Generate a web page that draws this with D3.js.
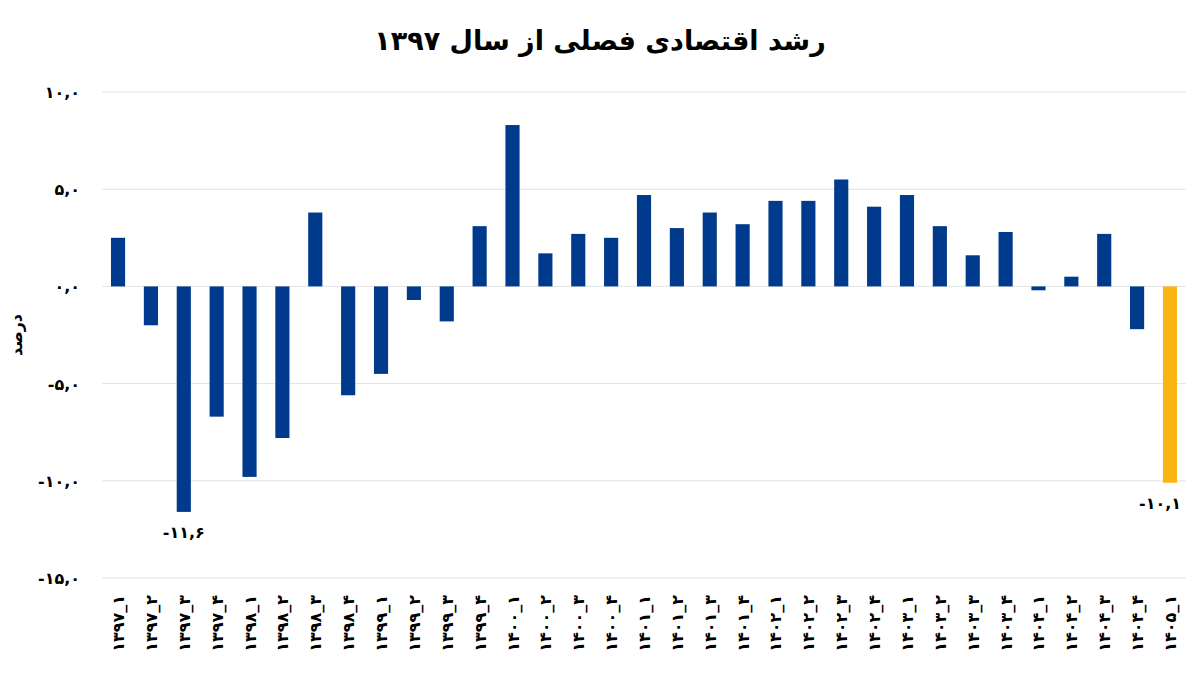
<!DOCTYPE html>
<html><head><meta charset="utf-8">
<script src="https://cdn.jsdelivr.net/npm/d3@7"></script>
<style>body{margin:0;background:#fff}text{font-family:"DejaVu Sans",sans-serif}</style>
</head><body><svg id="c" width="1200" height="675"></svg>
<script>
const categories=["۱۳۹۷_۱","۱۳۹۷_۲","۱۳۹۷_۳","۱۳۹۷_۴","۱۳۹۸_۱","۱۳۹۸_۲","۱۳۹۸_۳","۱۳۹۸_۴","۱۳۹۹_۱","۱۳۹۹_۲","۱۳۹۹_۳","۱۳۹۹_۴","۱۴۰۰_۱","۱۴۰۰_۲","۱۴۰۰_۳","۱۴۰۰_۴","۱۴۰۱_۱","۱۴۰۱_۲","۱۴۰۱_۳","۱۴۰۱_۴","۱۴۰۲_۱","۱۴۰۲_۲","۱۴۰۲_۳","۱۴۰۲_۴","۱۴۰۳_۱","۱۴۰۳_۲","۱۴۰۳_۳","۱۴۰۳_۴","۱۴۰۴_۱","۱۴۰۴_۲","۱۴۰۴_۳","۱۴۰۴_۴","۱۴۰۵_۱"];
const values=[2.5,-2.0,-11.6,-6.7,-9.8,-7.8,3.8,-5.6,-4.5,-0.7,-1.8,3.1,8.3,1.7,2.7,2.5,4.7,3.0,3.8,3.2,4.4,4.4,5.5,4.1,4.7,3.1,1.6,2.8,-0.2,0.5,2.7,-2.2,-10.1];
const tickValues=[10,5,0,-5,-10,-15];
const tickLabels=["۱۰,۰","۵,۰","۰,۰","-۵,۰","-۱۰,۰","-۱۵,۰"];
const labelled={2:"-۱۱,۶",32:"-۱۰,۱"};
const title="رشد اقتصادی فصلی از سال ۱۳۹۷";
const yTitle="درصد";

const svg=d3.select("#c");
const x=d3.scaleBand().domain(categories).range([101.6,1186.4]).paddingInner(0.57).paddingOuter(0.285);
const y=d3.scaleLinear().domain([-15,10]).range([578,92]);

svg.append("text").attr("x",600).attr("y",50).attr("text-anchor","middle")
  .attr("font-size",27).attr("font-weight","bold").attr("direction","rtl").text(title);

svg.selectAll(".g").data(tickValues).join("line")
  .attr("x1",102).attr("x2",1186).attr("y1",d=>y(d)).attr("y2",d=>y(d))
  .attr("stroke","#e3e3e3").attr("stroke-width",1);
svg.selectAll(".tl").data(tickValues).join("text")
  .attr("x",80).attr("y",d=>y(d)+6).attr("text-anchor","end")
  .attr("font-size",16).attr("font-weight","bold").text((d,i)=>tickLabels[i]);

svg.append("text").attr("transform","translate(22,335) rotate(-90)").attr("text-anchor","middle")
  .attr("font-size",16).attr("font-weight","bold").text(yTitle);

svg.selectAll(".b").data(values).join("rect")
  .attr("x",(d,i)=>x(categories[i])).attr("width",x.bandwidth())
  .attr("y",d=>y(Math.max(0,d))).attr("height",d=>Math.abs(y(d)-y(0)))
  .attr("fill",(d,i)=>i===values.length-1?"#fbb615":"#003a8c");

Object.entries(labelled).forEach(([i,t])=>{
  const cx=x(categories[i])+x.bandwidth()/2;
  svg.append("text").attr("x",Math.min(cx,1160)).attr("y",y(values[i])+26)
   .attr("text-anchor","middle").attr("font-size",16).attr("font-weight","bold").text(t);
});

svg.selectAll(".xl").data(categories).join("text")
  .attr("transform",d=>`translate(${x(d)+x.bandwidth()/2+6},595) rotate(-90)`)
  .attr("text-anchor","end").attr("font-size",16).attr("font-weight","bold").text(d=>d);
</script></body></html>
